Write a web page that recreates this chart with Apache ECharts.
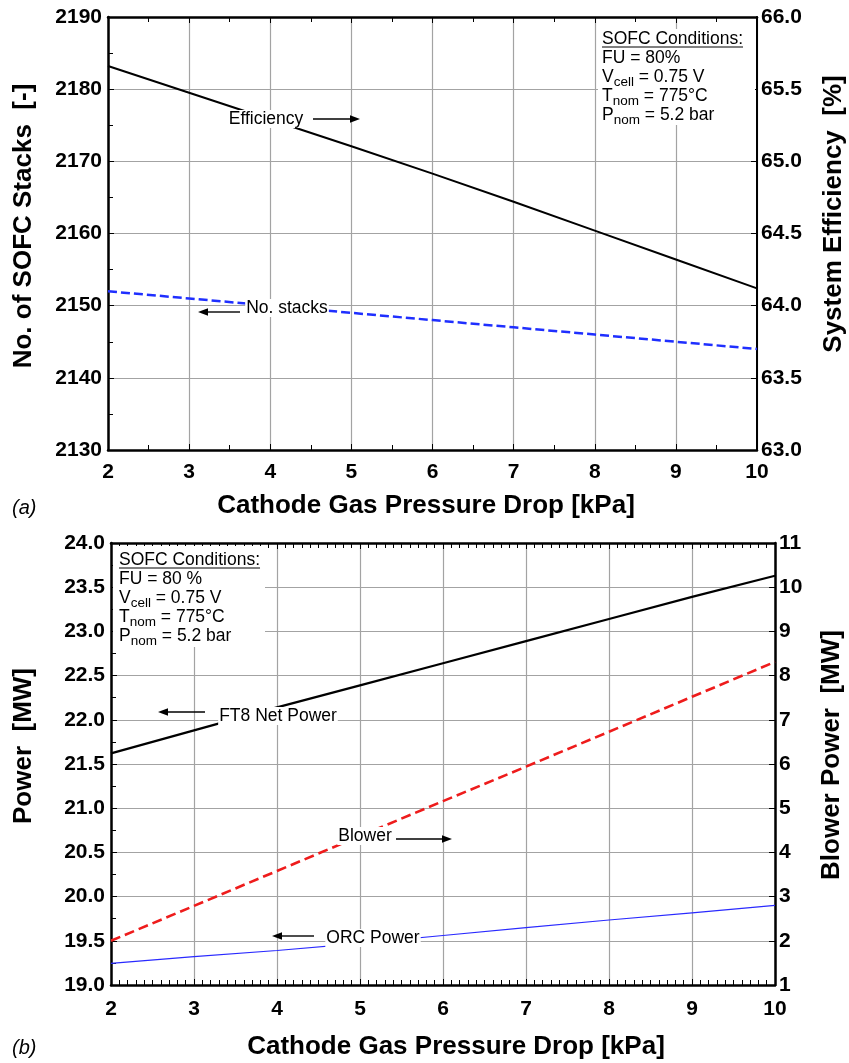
<!DOCTYPE html>
<html>
<head>
<meta charset="utf-8">
<title>SOFC cathode pressure drop</title>
<script src="https://cdn.jsdelivr.net/npm/echarts@6/dist/echarts.min.js"></script>
<style>
  html, body { margin: 0; padding: 0; background: #fff; }
  #main { width: 849px; height: 1063px; }
</style>
</head>
<body>
<div id="main"></div>
<script>
var pressureDrop = [2, 3, 4, 5, 6, 7, 8, 9, 10]
// (a)
var efficiency = [65.66, 65.475, 65.29, 65.105, 64.915, 64.72, 64.52, 64.32, 64.12]
var numStacks = [2152, 2151, 2150, 2149, 2148, 2147, 2146, 2145, 2144]
// (b)
var ft8Power = [21.62, 21.88, 22.14, 22.39, 22.64, 22.89, 23.14, 23.39, 23.63]
var blowerPower = [2.00, 2.79, 3.58, 4.37, 5.16, 5.94, 6.73, 7.52, 8.31]
var orcPower = [19.245, 19.32, 19.39, 19.47, 19.56, 19.65, 19.735, 19.815, 19.90]

var FONT = '"Liberation Sans", Arial, Helvetica, sans-serif'
var GRID_COLOR = '#a3a3a3'

function pairs(xs, ys) {
    var out = []
    for (var i = 0; i < xs.length; i++) out.push([xs[i], ys[i]])
    return out
}

var measureCtx = document.createElement('canvas').getContext('2d')
function textWidth(str, size) {
    measureCtx.font = size + 'px ' + FONT
    return measureCtx.measureText(str).width
}

function xAxisPair(gridIndex, minorSplit, labelMargin, lineWidth) {
    var base = {
        type: 'value', gridIndex: gridIndex, min: 2, max: 10, interval: 1,
        axisLine: { show: true, onZero: false, lineStyle: { color: '#000', width: lineWidth } },
        axisTick: { show: true, inside: true, length: 6, lineStyle: { color: '#000', width: 1 } },
        minorTick: { show: true, splitNumber: minorSplit, length: 5, lineStyle: { color: '#000', width: 1 } }
    }
    var bottom = Object.assign({}, base, {
        position: 'bottom',
        axisLabel: { show: true, margin: labelMargin, color: '#000', fontSize: 21, fontWeight: 'bold', fontFamily: FONT },
        splitLine: { show: true, lineStyle: { color: GRID_COLOR, width: 1.2 } }
    })
    var top = Object.assign({}, base, {
        position: 'top',
        axisLabel: { show: false },
        splitLine: { show: false }
    })
    return [bottom, top]
}

function yAxis(gridIndex, pos, min, max, interval, digits, minorSplit, lineWidth, grid) {
    return {
        type: 'value', gridIndex: gridIndex, position: pos, min: min, max: max, interval: interval,
        axisLine: { show: true, onZero: false, lineStyle: { color: '#000', width: lineWidth } },
        axisTick: { show: true, inside: true, length: 6, lineStyle: { color: '#000', width: 1 } },
        minorTick: { show: minorSplit > 0, splitNumber: minorSplit || 2, length: 5, lineStyle: { color: '#000', width: 1 } },
        splitLine: { show: grid, lineStyle: { color: GRID_COLOR, width: 1.2 } },
        axisLabel: {
            margin: pos == 'left' ? 6 : 4, color: '#000', fontSize: 21, fontWeight: 'bold', fontFamily: FONT,
            formatter: function (v) { return v.toFixed(digits) }
        }
    }
}

// annotation helpers
function label(text, cx, cy) {
    return {
        type: 'text', z: 100, x: cx, y: cy,
        style: {
            text: text, fill: '#000', font: '17.5px ' + FONT, align: 'center', verticalAlign: 'middle',
            backgroundColor: '#fff', padding: [0, 1, 0, 1]
        }
    }
}

function arrow(x1, y, x2) {
    var dir = x2 > x1 ? 1 : -1
    var head = 10
    return [{
        type: 'line', z: 100,
        shape: { x1: x1, y1: y, x2: x2 - dir * head, y2: y },
        style: { stroke: '#000', lineWidth: 1.4 }
    }, {
        type: 'polygon', z: 100,
        shape: { points: [[x2, y], [x2 - dir * head, y - 3.8], [x2 - dir * head, y + 3.8]] },
        style: { fill: '#000' }
    }]
}

function axisTitle(text, cx, cy, vertical) {
    return {
        type: 'text', z: 100, x: cx, y: cy, rotation: vertical ? Math.PI / 2 : 0,
        style: {
            text: text, fill: '#000', font: 'bold 26px ' + FONT, align: 'center', verticalAlign: 'middle'
        }
    }
}

function conditions(x, ys, fu) {
    var big = 17.5, small = 13.5
    var lines = [
        [['SOFC Conditions:']],
        [[fu]],
        [['V'], ['cell', 1], [' = 0.75 V']],
        [['T'], ['nom', 1], [' = 775\u00b0C']],
        [['P'], ['nom', 1], [' = 5.2 bar']]
    ]
    var els = []
    lines.forEach(function (segs, li) {
        var cx = x
        segs.forEach(function (seg) {
            var size = seg[1] ? small : big
            els.push({
                type: 'text', z: 101, x: cx, y: ys[li] + (seg[1] ? 5 : 0),
                style: { text: seg[0], fill: '#000', font: size + 'px ' + FONT, align: 'left', verticalAlign: 'middle' }
            })
            cx += textWidth(seg[0], size)
        })
        if (li == 0) {
            els.push({
                type: 'line', z: 101,
                shape: { x1: x, y1: ys[0] + 8, x2: cx, y2: ys[0] + 8 },
                style: { stroke: '#000', lineWidth: 1 }
            })
        }
    })
    return els
}

var xa = xAxisPair(0, 2, 12, 2.5)
var xb = xAxisPair(1, 10, 14, 2.5)

var graphics = []
// white panels behind the condition boxes
graphics.push({ type: 'rect', z: 99, shape: { x: 598, y: 29, width: 157, height: 96 }, style: { fill: '#fff' } })
graphics.push({ type: 'rect', z: 99, shape: { x: 113, y: 546, width: 152, height: 101 }, style: { fill: '#fff' } })
graphics = graphics.concat(conditions(602, [39, 58, 77, 96, 115], 'FU = 80%'))
graphics = graphics.concat(conditions(119, [560, 579, 598, 617, 636], 'FU = 80 %'))

graphics.push(label('Efficiency', 266, 119))
graphics = graphics.concat(arrow(313, 119, 360))
graphics.push(label('No. stacks', 287, 308))
graphics = graphics.concat(arrow(240, 312, 198))
graphics.push(label('FT8 Net Power', 278, 716))
graphics = graphics.concat(arrow(205, 712, 158))
graphics.push(label('Blower', 365, 836))
graphics = graphics.concat(arrow(396, 839, 452))
graphics.push(label('ORC Power', 373, 938))
graphics = graphics.concat(arrow(314, 936, 272))

graphics.push(axisTitle('No. of SOFC Stacks  [-]', 24, 226, true))
graphics.push(axisTitle('System Efficiency  [%]', 834, 214, true))
graphics.push(axisTitle('Cathode Gas Pressure Drop [kPa]', 426, 506, false))
graphics.push(axisTitle('Power  [MW]', 24, 746, true))
graphics.push(axisTitle('Blower Power  [MW]', 832, 755, true))
graphics.push(axisTitle('Cathode Gas Pressure Drop [kPa]', 456, 1047, false))
graphics.push({
    type: 'text', z: 100, x: 12, y: 508,
    style: { text: '(a)', fill: '#000', font: 'italic 20px ' + FONT, align: 'left', verticalAlign: 'middle' }
})
graphics.push({
    type: 'text', z: 100, x: 12, y: 1048,
    style: { text: '(b)', fill: '#000', font: 'italic 20px ' + FONT, align: 'left', verticalAlign: 'middle' }
})

var chart = echarts.init(document.getElementById('main'), null, { renderer: 'canvas' })

var option = {
    backgroundColor: '#fff',
    animation: false,
    textStyle: { fontFamily: FONT },
    grid: [
        { left: 108, top: 17, width: 649, height: 433, outerBoundsMode: 'none' },
        { left: 111, top: 543, width: 664, height: 442, outerBoundsMode: 'none' }
    ],
    xAxis: [xa[0], xa[1], xb[0], xb[1]],
    yAxis: [
        yAxis(0, 'left', 2130, 2190, 10, 0, 2, 2.5, true),
        yAxis(0, 'right', 63, 66, 0.5, 1, 0, 2, false),
        yAxis(1, 'left', 19, 24, 0.5, 1, 2, 2.5, true),
        yAxis(1, 'right', 1, 11, 1, 0, 0, 2.5, false)
    ],
    series: [
        {
            name: 'Efficiency', type: 'line', xAxisIndex: 0, yAxisIndex: 1,
            data: pairs(pressureDrop, efficiency), showSymbol: false,
            lineStyle: { color: '#000', width: 2 }
        },
        {
            name: 'No. stacks', type: 'line', xAxisIndex: 0, yAxisIndex: 0,
            data: pairs(pressureDrop, numStacks), showSymbol: false,
            lineStyle: { color: '#1f2fff', width: 2.5, type: [9, 4] }
        },
        {
            name: 'FT8 Net Power', type: 'line', xAxisIndex: 2, yAxisIndex: 2,
            data: pairs(pressureDrop, ft8Power), showSymbol: false,
            lineStyle: { color: '#000', width: 2.2 }
        },
        {
            name: 'Blower', type: 'line', xAxisIndex: 2, yAxisIndex: 3,
            data: pairs(pressureDrop, blowerPower), showSymbol: false,
            lineStyle: { color: '#ee1c1c', width: 2.6, type: [10, 5] }
        },
        {
            name: 'ORC Power', type: 'line', xAxisIndex: 2, yAxisIndex: 2,
            data: pairs(pressureDrop, orcPower), showSymbol: false,
            lineStyle: { color: '#2a2aff', width: 1.2 }
        }
    ],
    graphic: { elements: graphics }
}

chart.setOption(option)
</script>
</body>
</html>
